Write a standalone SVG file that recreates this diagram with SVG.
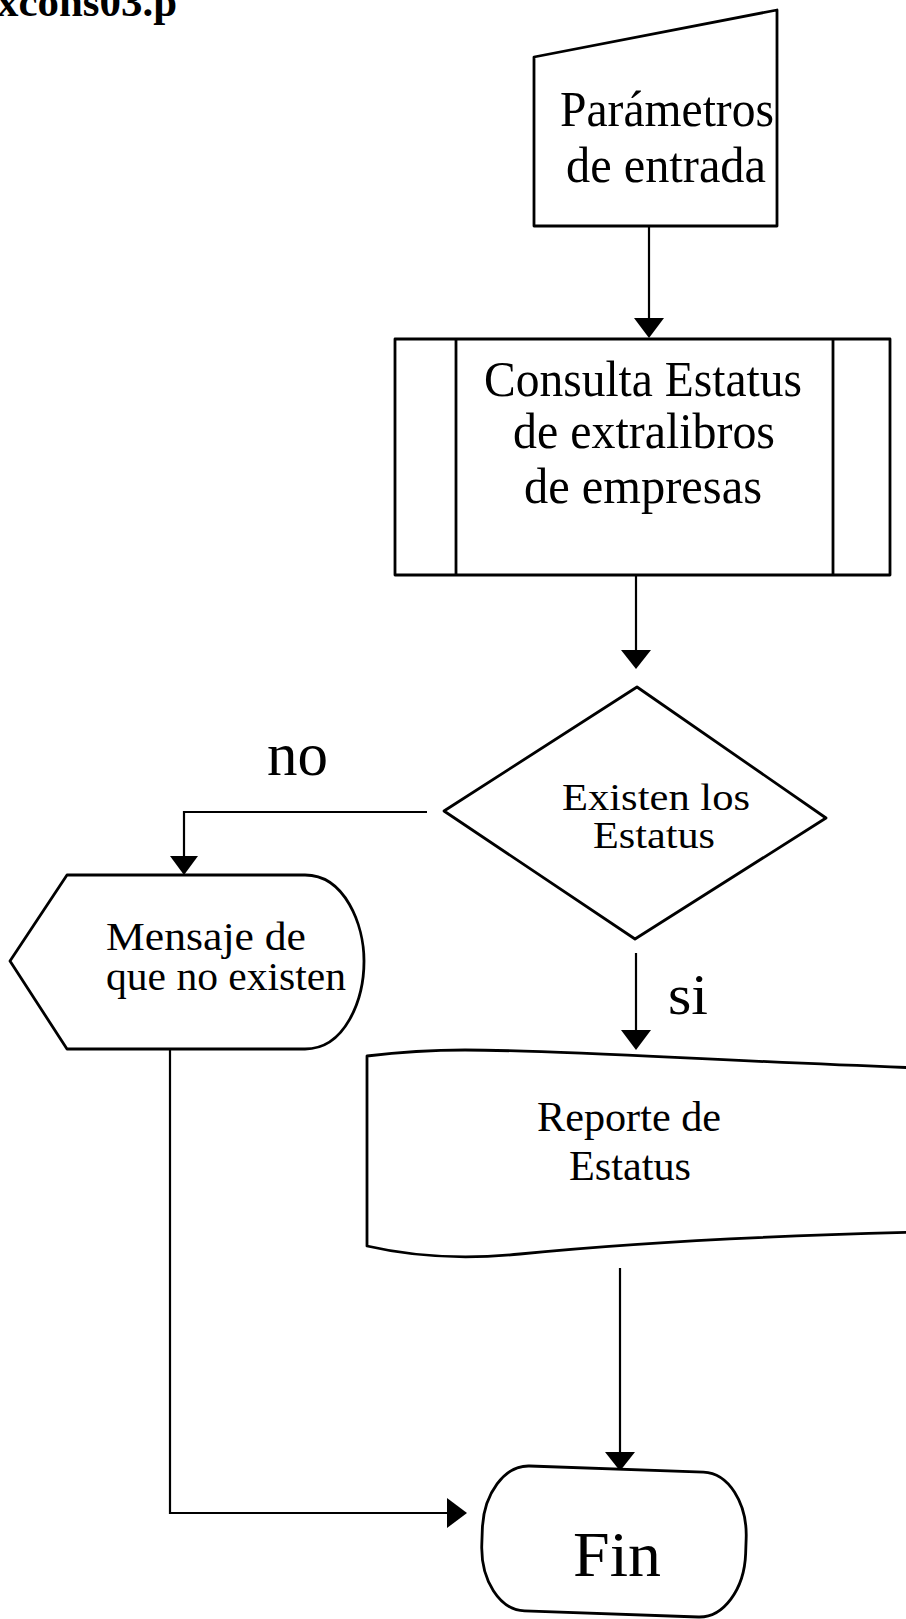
<svg xmlns="http://www.w3.org/2000/svg" width="906" height="1619" viewBox="0 0 906 1619">
<style>
.shape{fill:#fff;stroke:#000;stroke-width:2.8;stroke-linejoin:round}
.conn{fill:none;stroke:#000;stroke-width:2.2}
.head{fill:#000;stroke:none}
.t{font-family:"Liberation Serif","Times New Roman",serif;fill:#000}
</style>
<rect width="906" height="1619" fill="#fff"/>
<text class="t" x="-3" y="16" font-size="42" font-weight="bold" textLength="180" lengthAdjust="spacingAndGlyphs">xcons03.p</text>

<g id="connectors">
  <line class="conn" x1="649" y1="226" x2="649" y2="320"/>
  <polygon class="head" points="634,318 664,318 649,338"/>
  <line class="conn" x1="636" y1="575" x2="636" y2="652"/>
  <polygon class="head" points="621,650 651,650 636,669"/>
  <polyline class="conn" points="427,812 184,812 184,858"/>
  <polygon class="head" points="170,856 198,856 184,875"/>
  <line class="conn" x1="636" y1="953" x2="636" y2="1032"/>
  <polygon class="head" points="621,1030 651,1030 636,1050"/>
  <line class="conn" x1="620" y1="1268" x2="620" y2="1454"/>
  <polygon class="head" points="605,1452 635,1452 620,1471"/>
  <polyline class="conn" points="170,1049 170,1513 449,1513"/>
  <polygon class="head" points="447,1498 447,1528 467,1513"/>
  <text class="t" x="267" y="775" font-size="62" textLength="61" lengthAdjust="spacingAndGlyphs">no</text>
  <text class="t" x="668" y="1014" font-size="58" textLength="40" lengthAdjust="spacingAndGlyphs">si</text>
</g>

<g id="parametros">
  <polygon class="shape" points="534,57 777,10 777,226 534,226"/>
  <text class="t" x="560" y="126" font-size="50" textLength="214" lengthAdjust="spacingAndGlyphs">Parámetros</text>
  <text class="t" x="566" y="182" font-size="50" textLength="200" lengthAdjust="spacingAndGlyphs">de entrada</text>
</g>

<g id="consulta">
  <rect class="shape" x="395" y="339" width="495" height="236"/>
  <line class="shape" x1="456" y1="339" x2="456" y2="575"/>
  <line class="shape" x1="833" y1="339" x2="833" y2="575"/>
  <text class="t" x="484" y="396" font-size="50" textLength="318" lengthAdjust="spacingAndGlyphs">Consulta Estatus</text>
  <text class="t" x="513" y="448" font-size="50" textLength="262" lengthAdjust="spacingAndGlyphs">de extralibros</text>
  <text class="t" x="524" y="503" font-size="50" textLength="238" lengthAdjust="spacingAndGlyphs">de empresas</text>
</g>

<g id="decision">
  <polygon class="shape" points="637,687 826,818 635,939 444,811"/>
  <text class="t" x="562" y="810" font-size="37" textLength="188" lengthAdjust="spacingAndGlyphs">Existen los</text>
  <text class="t" x="593" y="848" font-size="37" textLength="122" lengthAdjust="spacingAndGlyphs">Estatus</text>
</g>

<g id="mensaje">
  <path class="shape" d="M10,961 L67,875 L305,875 C345,875 364,925 364,961 C364,1000 345,1049 305,1049 L67,1049 Z"/>
  <text class="t" x="106" y="950" font-size="39" textLength="200" lengthAdjust="spacingAndGlyphs">Mensaje de</text>
  <text class="t" x="106" y="990" font-size="39" textLength="240" lengthAdjust="spacingAndGlyphs">que no existen</text>
</g>

<g id="reporte">
  <path class="shape" d="M367,1056 C400,1052 430,1050 465,1050 C560,1050 700,1060 920,1068 L920,1232 C760,1236 620,1244 520,1254 C460,1260 410,1256 367,1246 Z"/>
  <text class="t" x="537" y="1131" font-size="42" textLength="184" lengthAdjust="spacingAndGlyphs">Reporte de</text>
  <text class="t" x="569" y="1180" font-size="42" textLength="122" lengthAdjust="spacingAndGlyphs">Estatus</text>
</g>

<g id="fin">
  <rect class="shape" x="482" y="1469" width="264" height="145" rx="45" ry="65" transform="rotate(2 614 1541)"/>
  <text class="t" x="573" y="1576" font-size="64" textLength="88" lengthAdjust="spacingAndGlyphs">Fin</text>
</g>
</svg>
